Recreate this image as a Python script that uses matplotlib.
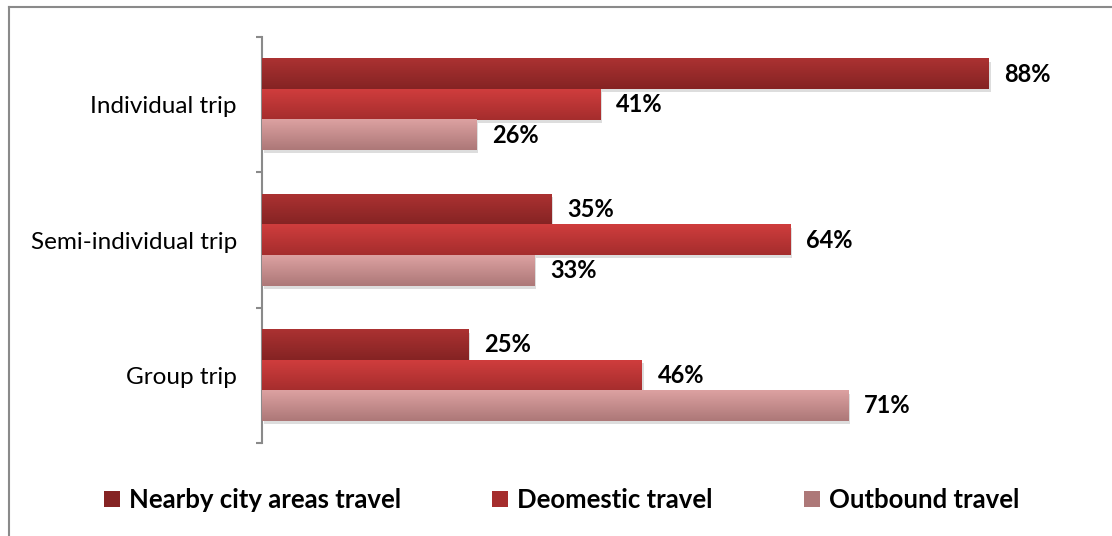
import numpy as np
import matplotlib
matplotlib.use("Agg")
import matplotlib.pyplot as plt
import matplotlib.patheffects as pe
from matplotlib.patches import Patch
from matplotlib.lines import Line2D

plt.rcParams['font.family'] = ['Lato', 'DejaVu Sans']

categories = ['Individual trip', 'Semi-individual trip', 'Group trip']
series_names = ['Nearby city areas travel', 'Deomestic travel', 'Outbound travel']
nearby = [88, 35, 25]
domestic = [41, 64, 46]
outbound = [26, 33, 71]

# (top colour, bottom colour) of the vertical gradient on each series
shades = [('#ab3232', '#852323'),
          ('#cf3d3d', '#a52d2d'),
          ('#dca1a1', '#ad7878')]

fig = plt.figure(figsize=(11.12, 5.36), dpi=100)
ax = fig.add_axes([262 / 1112, 1 - 443 / 536, 826 / 1112, 406 / 536])

# outer frame of the chart area
fig.add_artist(Line2D([9 / 1112, 1], [1 - 7 / 536, 1 - 7 / 536], transform=fig.transFigure,
                      color='#8a8a8a', lw=1.5))
fig.add_artist(Line2D([9 / 1112, 9 / 1112], [0, 1 - 7 / 536], transform=fig.transFigure,
                      color='#8a8a8a', lw=1.5))

pos = np.arange(len(categories))[::-1]  # first category on top
h = 0.225
offsets = [h, 0, -h]

for vals, off, (c_top, c_bot) in zip([nearby, domestic, outbound], offsets, shades):
    bars = ax.barh(pos + off, vals, height=h, color=c_bot, zorder=2,
                   path_effects=[pe.SimplePatchShadow(offset=(1.2, -2.2), shadow_rgbFace='#a0a0a0', alpha=0.35),
                                 pe.Normal()])
    grad = np.linspace(matplotlib.colors.to_rgb(c_top), matplotlib.colors.to_rgb(c_bot), 32)[:, None, :]
    for b, v in zip(bars, vals):
        x0, y0 = b.get_x(), b.get_y()
        ax.imshow(grad, extent=(x0, x0 + b.get_width(), y0, y0 + b.get_height()),
                  origin='upper', aspect='auto', zorder=3, interpolation='bilinear')
        ax.text(v + 1.9, y0 + b.get_height() / 2, f'{v}%', va='center', ha='left',
                fontsize=17, fontweight='bold', color='black', zorder=4)

ax.set_xlim(0, 100)
ax.set_ylim(-0.5, 2.5)
ax.set_aspect('auto')

for s in ['top', 'right', 'bottom']:
    ax.spines[s].set_visible(False)
ax.spines['left'].set_color('#8a8a8a')
ax.spines['left'].set_linewidth(1.5)
ax.set_xticks([])
ax.set_yticks(pos)
ax.set_yticklabels(categories, fontsize=17.5)
ax.set_yticks([-0.5, 0.5, 1.5, 2.5], minor=True)
ax.tick_params(axis='y', which='major', length=0, pad=18)
ax.tick_params(axis='y', which='minor', length=4.5, width=1.5, color='#8a8a8a', direction='out')

handles = [Patch(facecolor=c[1], edgecolor='none') for c in shades]
fig.legend(handles, series_names, loc='center', bbox_to_anchor=(0.505, 1 - 500 / 536), ncol=3,
           frameon=False, prop={'size': 18.5, 'weight': 'bold'}, handlelength=0.62, handleheight=0.62,
           handletextpad=0.35, columnspacing=3.55)

fig.savefig('out.png', dpi=100)
